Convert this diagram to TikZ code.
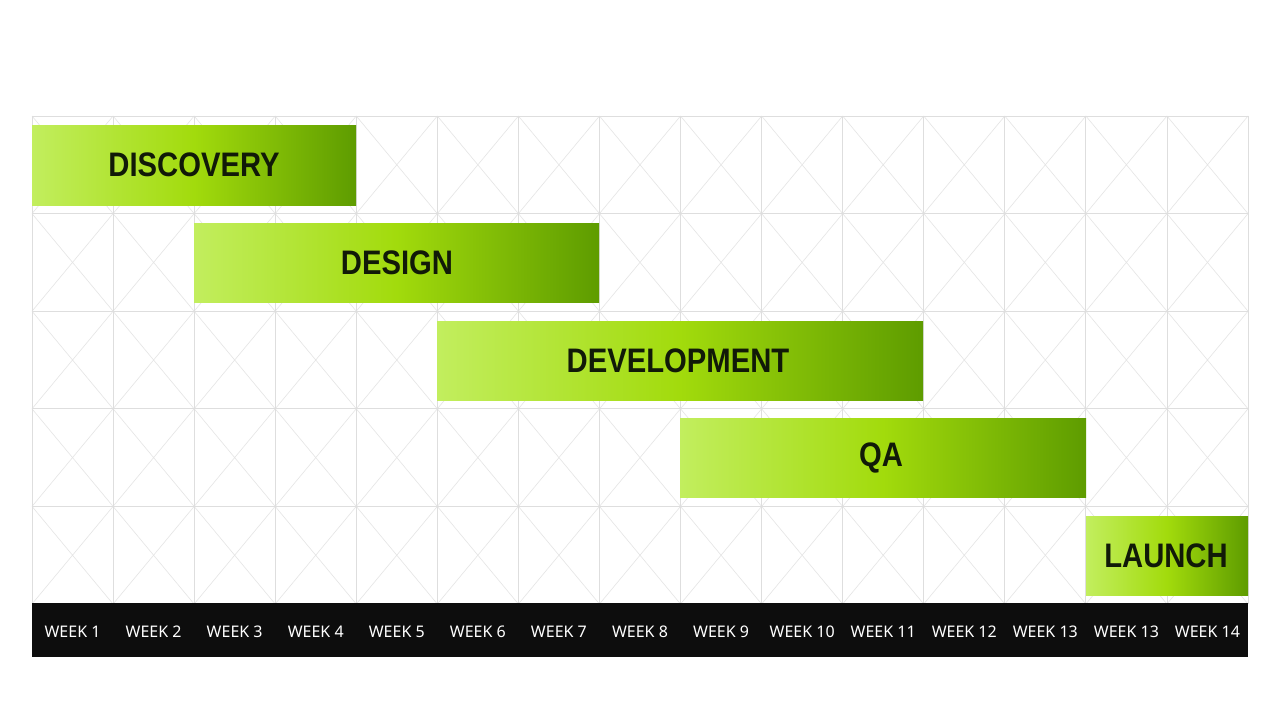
\documentclass[tikz,border=0pt]{standalone}
\usepackage{fontspec}
\setmainfont{Noto Sans}
\newfontfamily\barfont{Liberation Sans}[FakeStretch=0.86]
\begin{document}
\begin{tikzpicture}[x=1pt,y=-1pt,
  gridline/.style={draw=black!13,line width=0.8pt},
  diagline/.style={draw=black!10,line width=0.6pt},
  taskbar/.style={left color=barL,right color=barR,middle color=barM,draw=none},
  tasklabel/.style={font=\barfont\fontsize{34}{36}\selectfont\bfseries,text=labeltext},
  weeklabel/.style={font=\fontsize{16}{18}\selectfont,text=white}]
\definecolor{barL}{HTML}{C2EE5E}
\definecolor{barM}{HTML}{A2DB0C}
\definecolor{barR}{HTML}{5E9C00}
\definecolor{labeltext}{HTML}{111A08}
\useasboundingbox (0,0) rectangle (1280,720);
\fill[white] (0,0) rectangle (1280,720);
% grid cells with diagonals
\foreach \i in {0,...,14}{
  \foreach \j in {0,...,4}{
    \pgfmathsetmacro{\xa}{32+81.0667*\i}
    \pgfmathsetmacro{\xb}{32+81.0667*(\i+1)}
    \pgfmathsetmacro{\ya}{116+97.6*\j}
    \pgfmathsetmacro{\yb}{116+97.6*(\j+1)}
    \draw[diagline] (\xa,\ya) -- (\xb,\yb) (\xa,\yb) -- (\xb,\ya);
  }
}
\foreach \i in {0,...,15}{
  \pgfmathsetmacro{\xa}{32+81.0667*\i}
  \draw[gridline] (\xa,116) -- (\xa,604);
}
\foreach \j in {0,...,5}{
  \pgfmathsetmacro{\ya}{116+97.6*\j}
  \draw[gridline] (32,\ya) -- (1248,\ya);
}
% task bars
\path[taskbar] (32,125) rectangle (356,205);
\node[tasklabel] (discovery) at (194,165) {DISCOVERY};
\path[taskbar] (194,223) rectangle (599,302);
\node[tasklabel] (design) at (397,263) {DESIGN};
\path[taskbar] (437,321) rectangle (923,400);
\node[tasklabel] (development) at (678,361) {DEVELOPMENT};
\path[taskbar] (680,418) rectangle (1086,497);
\node[tasklabel] (qa) at (881,458) {QA};
\path[taskbar] (1086,516) rectangle (1248,595);
\node[tasklabel] (launch) at (1166,556) {LAUNCH};
% week bar
\fill[black!95] (32,603) rectangle (1248,657);
\foreach \w [count=\k from 0] in {WEEK 1,WEEK 2,WEEK 3,WEEK 4,WEEK 5,WEEK 6,WEEK 7,WEEK 8,WEEK 9,WEEK 10,WEEK 11,WEEK 12,WEEK 13,WEEK 13,WEEK 14}{
  \pgfmathsetmacro{\xc}{32+81.0667*(\k+0.5)}
  \node[weeklabel] (wk\k) at (\xc,632) {\w};
}
\end{tikzpicture}
\end{document}
